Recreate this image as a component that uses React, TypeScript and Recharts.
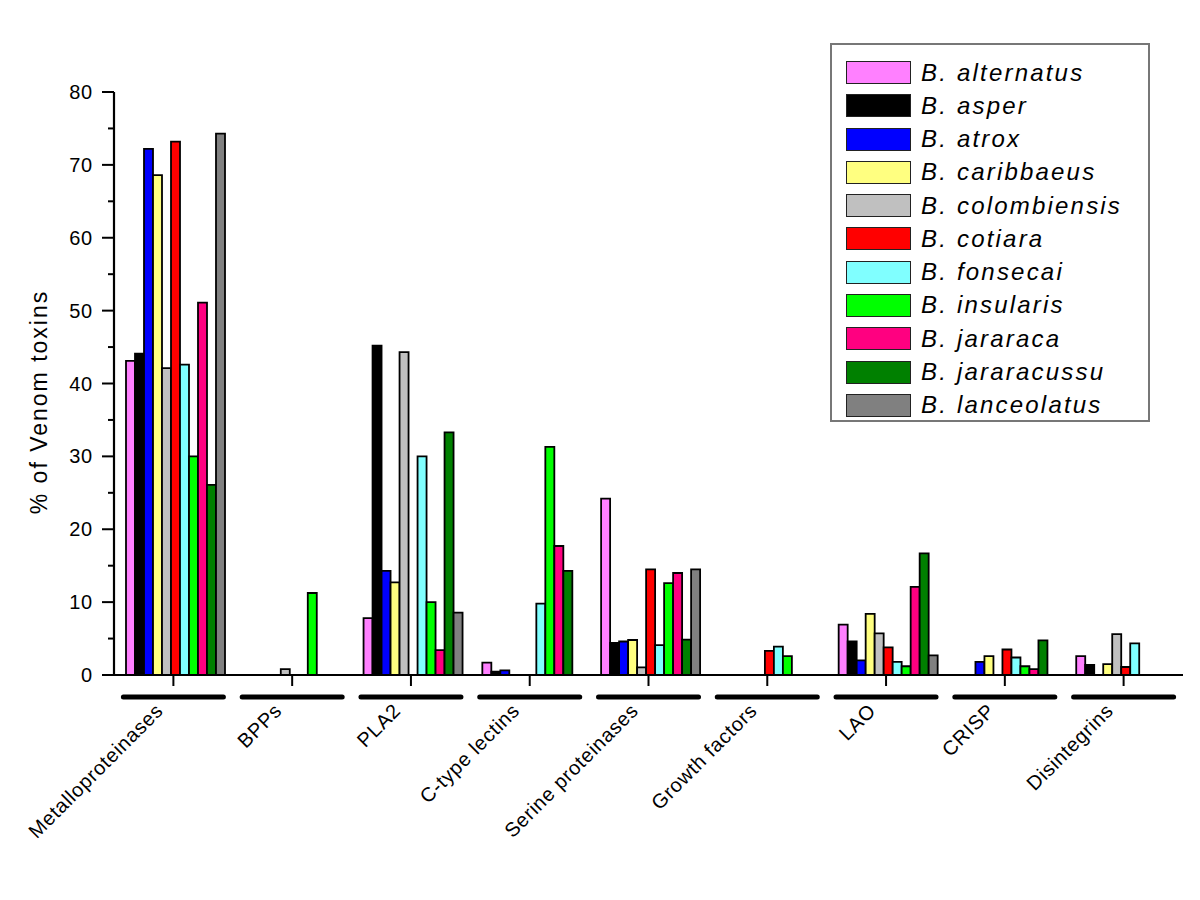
import React from 'react';
import { BarChart, Bar, XAxis, YAxis, Legend } from 'recharts';

const categories = [
  'Metalloproteinases',
  'BPPs',
  'PLA2',
  'C-type lectins',
  'Serine proteinases',
  'Growth factors',
  'LAO',
  'CRISP',
  'Disintegrins',
];

const speciesNames = [
  'B. alternatus',
  'B. asper',
  'B. atrox',
  'B. caribbaeus',
  'B. colombiensis',
  'B. cotiara',
  'B. fonsecai',
  'B. insularis',
  'B. jararaca',
  'B. jararacussu',
  'B. lanceolatus',
];

const speciesColors = [
  '#FF80FF',
  '#000000',
  '#0000FF',
  '#FFFF80',
  '#C0C0C0',
  '#FF0000',
  '#80FFFF',
  '#00FF00',
  '#FF0080',
  '#008000',
  '#808080',
];

const alternatus = [43.1, 0, 7.8, 1.7, 24.2, 0, 6.9, 0, 2.6];
const asper = [44.1, 0, 45.2, 0.46, 4.4, 0, 4.6, 0, 1.4];
const atrox = [72.2, 0, 14.3, 0.64, 4.6, 0, 2.0, 1.8, 0];
const caribbaeus = [68.6, 0, 12.7, 0, 4.8, 0, 8.4, 2.6, 1.5];
const colombiensis = [42.1, 0.8, 44.3, 0, 1.05, 0, 5.7, 0, 5.6];
const cotiara = [73.2, 0, 0, 0, 14.5, 3.3, 3.8, 3.5, 1.1];
const fonsecai = [42.6, 0, 30.0, 9.8, 4.1, 3.9, 1.8, 2.4, 4.35];
const insularis = [30.0, 11.25, 10.0, 31.3, 12.6, 2.6, 1.2, 1.2, 0];
const jararaca = [51.1, 0, 3.4, 17.7, 14.0, 0, 12.1, 0.8, 0];
const jararacussu = [26.1, 0, 33.3, 14.3, 4.85, 0, 16.7, 4.75, 0];
const lanceolatus = [74.3, 0, 8.55, 0, 14.5, 0, 2.7, 0, 0];

const seriesValues = [
  alternatus,
  asper,
  atrox,
  caribbaeus,
  colombiensis,
  cotiara,
  fonsecai,
  insularis,
  jararaca,
  jararacussu,
  lanceolatus,
];

const yTicks = [0, 5, 10, 15, 20, 25, 30, 35, 40, 45, 50, 55, 60, 65, 70, 75, 80];

const data = categories.map((c, i) => {
  const row: Record<string, any> = { category: c };
  speciesNames.forEach((n, j) => {
    row[n] = seriesValues[j][i];
  });
  return row;
});

const FONT = '"Liberation Sans", Arial, Helvetica, sans-serif';

function YTick(props: any) {
  const { x, y, payload } = props;
  const v = payload.value;
  const major = v % 10 === 0;
  return (
    <g>
      <line x1={x - (major ? 12 : 6)} x2={x} y1={y} y2={y} stroke="#000" strokeWidth={2} />
      {major && (
        <text
          x={x - 21}
          y={y}
          dy={7}
          textAnchor="end"
          fontFamily={FONT}
          fontSize={20}
          letterSpacing={0.8}
          fill="#000"
        >
          {v}
        </text>
      )}
    </g>
  );
}

function XTick(props: any) {
  const { x, y, payload } = props;
  const tx = x - 9;
  const ty = y + 37;
  return (
    <g>
      <line x1={x} x2={x} y1={y} y2={y + 11} stroke="#000" strokeWidth={2} />
      <line x1={x - 50} x2={x + 50} y1={y + 22} y2={y + 22} stroke="#000" strokeWidth={5} strokeLinecap="round" />
      <text
        x={tx}
        y={ty}
        transform={`rotate(-45, ${tx}, ${ty})`}
        textAnchor="end"
        fontFamily={FONT}
        fontSize={20}
        letterSpacing={0.7}
        fill="#000"
      >
        {payload.value}
      </text>
    </g>
  );
}

const renderLegend = () => (
  <div
    style={{
      width: 320,
      height: 379,
      boxSizing: 'border-box',
      border: '2px solid #777',
      background: '#fff',
      paddingTop: 11,
      paddingLeft: 14,
    }}
  >
    {speciesNames.map((n, i) => (
      <div key={n} style={{ display: 'flex', alignItems: 'center', height: 33.27 }}>
        <div
          style={{
            width: 65,
            height: 23,
            boxSizing: 'border-box',
            border: '1.5px solid #222',
            background: speciesColors[i],
            marginRight: 10,
          }}
        />
        <span
          style={{
            fontFamily: FONT,
            fontStyle: 'italic',
            fontSize: 24,
            letterSpacing: 2.2,
            color: '#000',
            lineHeight: '24px',
            whiteSpace: 'nowrap',
          }}
        >
          {n}
        </span>
      </div>
    ))}
  </div>
);

const yLabel = () => (
  <text
    x={47}
    y={402}
    transform="rotate(-90, 47, 402)"
    textAnchor="middle"
    fontFamily={FONT}
    fontSize={23}
    letterSpacing={2}
    fill="#000"
  >
    % of Venom toxins
  </text>
);

export default function App() {
  return (
    <div style={{ position: 'absolute', left: 0, top: 0, background: '#fff' }}>
      <BarChart
        width={1200}
        height={900}
        data={data}
        margin={{ top: 92, right: 17, bottom: 25, left: 54 }}
        barCategoryGap={12}
        barGap={0}
      >
        <XAxis
          dataKey="category"
          height={200}
          interval={0}
          tickSize={0}
          tickMargin={0}
          tickLine={false}
          axisLine={{ stroke: '#000', strokeWidth: 2.2 }}
          tick={<XTick />}
        />
        <YAxis
          width={60}
          domain={[0, 80]}
          ticks={yTicks}
          interval={0}
          tickSize={0}
          tickMargin={0}
          tickLine={false}
          axisLine={{ stroke: '#000', strokeWidth: 2.2 }}
          tick={<YTick />}
          label={{ value: '% of Venom toxins', content: yLabel }}
        />
        <Legend
          layout="vertical"
          align="center"
          verticalAlign="middle"
          content={renderLegend}
          wrapperStyle={{ position: 'absolute', left: 830, top: 43, width: 320, height: 379 }}
        />
        {speciesNames.map((n, i) => (
          <Bar
            key={n}
            dataKey={n}
            fill={speciesColors[i]}
            stroke="#000"
            strokeWidth={1.8}
            isAnimationActive={false}
          />
        ))}
      </BarChart>
    </div>
  );
}
